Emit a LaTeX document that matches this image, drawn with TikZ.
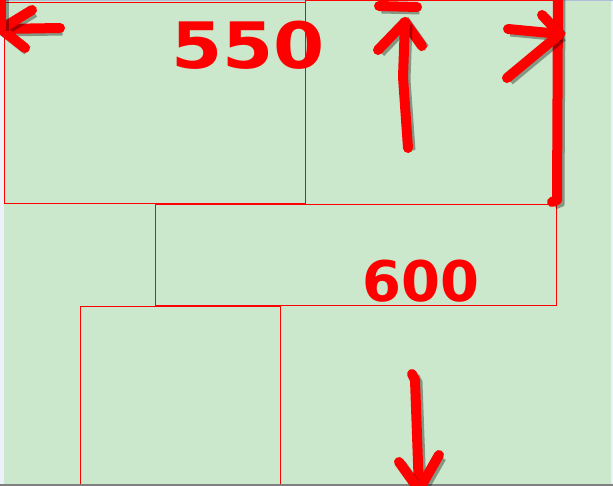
\documentclass[tikz,border=0pt]{standalone}
\usepackage{fontspec}
\newfontfamily\inkfont{DejaVu Sans}
\definecolor{pagebg}{RGB}{204,232,204}
\definecolor{edgeblue}{RGB}{176,190,220}
\definecolor{edgewhite}{RGB}{236,240,248}
\definecolor{edgegray}{RGB}{128,128,128}
\begin{document}
\begin{tikzpicture}[%
		x=1pt,
		y=-1pt,
		frame/.style={%
			draw=red,
			line width=1pt
		},
		ink/.style={%
			draw=red,
			line width=10pt,
			line cap=round,
			line join=round,
			preaction={draw=black, draw opacity=.35, line width=10pt,
				transform canvas={shift={(2.5pt,-2.5pt)}}}
		},
		digits/.style={%
			text=red,
			inner sep=0pt,
			font=\inkfont\bfseries\fontsize{64}{64}\selectfont
		}
		]
		\useasboundingbox (0,0) rectangle (613,486);
		\fill[pagebg] (0,0) rectangle (613,486);
		\fill[edgewhite] (0,0) rectangle (3.5,486);
		\fill[edgewhite] (611,0) rectangle (613,486);
		\fill[edgeblue] (0,0) rectangle (613,1.5);
		
		% boxes
		\draw[frame] (305,1) rectangle (556,205);
		\draw[frame] (4,3) rectangle (305,204);
		\draw[frame] (155,205) rectangle (556,306);
		\draw[frame] (80,307) rectangle (280,490);
		\fill[edgegray] (0,484) rectangle (613,486);
		
		% marks
		\coordinate (lefttip)  at (1,29);
		\coordinate (uptip)    at (405,22);
		\coordinate (righttip) at (560,34);
		\coordinate (downtip)  at (419,490);
		
		\draw[ink] (60,28) -- (lefttip);
		\draw[ink] (32,10) -- (lefttip) -- (25,48);
		\draw[ink] (1,-5) -- (lefttip);
		
		\draw[ink] (379,6) -- (417,7);
		\draw[ink] (378,50) -- (uptip) -- (422,46);
		\draw[ink] (uptip) -- (403,77) -- (408,148);
		
		\draw[ink] (558,-5) -- (557,200) -- (552,202);
		\draw[ink] (508,29) -- (righttip);
		\draw[ink] (542,15) -- (righttip);
		\draw[ink] (507,78) -- (righttip);
		
		\draw[ink] (412,374) -- (415,380) -- (downtip);
		\draw[ink] (399,462) -- (downtip);
		\draw[ink] (439,455) -- (downtip);
		
		\node[digits] (w550) at (248,45) {\scalebox{1.15}[1]{550}};
		\node[digits, font=\inkfont\bfseries\fontsize{56}{56}\selectfont] (w600) at (421,281) {600};
\end{tikzpicture}
\end{document}
